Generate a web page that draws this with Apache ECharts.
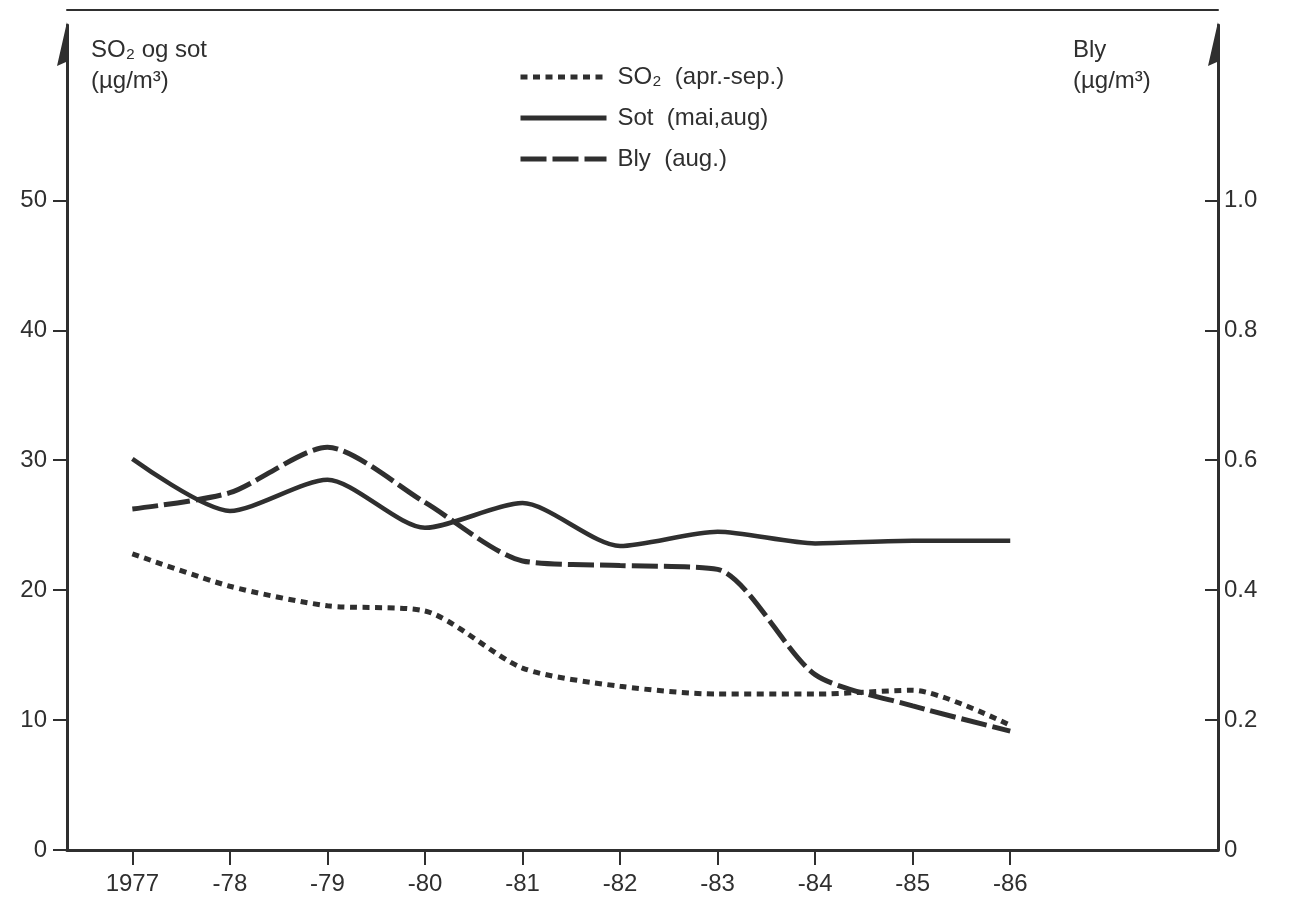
<!DOCTYPE html>
<html>
<head>
<meta charset="utf-8">
<script src="https://cdn.jsdelivr.net/npm/echarts@6/dist/echarts.min.js"></script>
<style>
  html, body { margin: 0; padding: 0; background: #fff; }
  #chart { width: 1289px; height: 903px; }
</style>
</head>
<body>
<div id="chart"></div>
<script>
// Years on the x axis and their printed labels
const years = [1977, 1978, 1979, 1980, 1981, 1982, 1983, 1984, 1985, 1986];
const yearLabels = ['1977', '-78', '-79', '-80', '-81', '-82', '-83', '-84', '-85', '-86'];

// SO2 (apr.-sep.), µg/m³, left axis
const so2 = [22.8, 20.3, 18.8, 18.4, 14.0, 12.6, 12.0, 12.0, 12.3, 9.6];
// Sot (mai, aug), µg/m³, left axis
const sot = [30.1, 26.1, 28.5, 24.8, 26.7, 23.4, 24.5, 23.6, 23.8, 23.8];
// Bly (aug.), µg/m³, right axis
const bly = [0.525, 0.55, 0.62, 0.535, 0.445, 0.438, 0.432, 0.27, 0.222, 0.183];

// Tick values shown on each axis
const leftTicks = [0, 10, 20, 30, 40, 50];
const rightTicks = [0, 0.2, 0.4, 0.6, 0.8, 1.0];

const seriesNames = ['SO₂  (apr.-sep.)', 'Sot  (mai,aug)', 'Bly  (aug.)'];

const ink = '#2f2f2f';
const font = 'Liberation Sans, Arial, Helvetica, sans-serif';

// One-sided arrow head for the vertical axes (barb on one side only);
// the zero-area spur keeps the shape centred on the axis line.
const halfArrow = 'path://M0,44 L10,0 L20,0 L10,0 L10,44 L9,40 Z';

const pairs = arr => years.map((y, i) => [y, arr[i]]);

const chart = echarts.init(document.getElementById('chart'), null, { renderer: 'canvas' });

chart.setOption({
  backgroundColor: '#ffffff',
  animation: false,
  textStyle: { fontFamily: font, color: ink },
  grid: { left: 67, right: 71, top: 25, bottom: 53, containLabel: false },
  title: [
    {
      text: 'SO₂ og sot\n(µg/m³)',
      left: 86, top: 30,
      textStyle: { fontFamily: font, fontSize: 24, fontWeight: 'normal', color: ink, lineHeight: 31 }
    },
    {
      text: 'Bly\n(µg/m³)',
      left: 1068, top: 30,
      textStyle: { fontFamily: font, fontSize: 24, fontWeight: 'normal', color: ink, lineHeight: 31 }
    }
  ],
  legend: {
    orient: 'vertical',
    left: 513, top: 60,
    itemWidth: 86, itemHeight: 14, itemGap: 17,
    itemStyle: { color: 'rgba(0,0,0,0)', borderWidth: 0, opacity: 0 },
    lineStyle: { width: 5 },
    textStyle: { fontFamily: font, fontSize: 24, color: ink, padding: [0, 0, 0, 6] },
    data: seriesNames
  },
  xAxis: [
    {
      type: 'value',
      min: 1976.33, max: 1988.13,
      splitLine: { show: false },
      axisLine: { show: true, onZero: false, lineStyle: { color: ink, width: 3 } },
      axisTick: {
        show: true, length: 15, inside: false,
        customValues: years,
        lineStyle: { color: ink, width: 2 }
      },
      axisLabel: {
        show: true, margin: 22, fontSize: 24, color: ink, fontFamily: font,
        customValues: years,
        formatter: v => yearLabels[years.indexOf(Math.round(v))] || ''
      }
    },
    {
      type: 'value',
      position: 'top',
      offset: 15,
      min: 1976.33, max: 1988.13,
      splitLine: { show: false },
      axisLine: { show: true, onZero: false, lineStyle: { color: ink, width: 2 } },
      axisTick: { show: false },
      axisLabel: { show: false }
    }
  ],
  yAxis: [
    {
      type: 'value',
      position: 'left',
      min: 0, max: 63.5,
      splitLine: { show: false },
      axisLine: {
        show: true, onZero: false, symbol: ['none', halfArrow], symbolSize: [20, 44], symbolOffset: [0, -19],
        lineStyle: { color: ink, width: 3 }
      },
      axisTick: {
        show: true, length: 14, inside: false,
        customValues: leftTicks,
        lineStyle: { color: ink, width: 2 }
      },
      axisLabel: {
        show: true, margin: 20, fontSize: 24, color: ink, fontFamily: font,
        customValues: leftTicks,
        formatter: v => String(Math.round(v))
      }
    },
    {
      type: 'value',
      position: 'right',
      min: 0, max: 1.27,
      splitLine: { show: false },
      axisLine: {
        show: true, onZero: false, symbol: ['none', halfArrow], symbolSize: [20, 44], symbolOffset: [0, -19],
        lineStyle: { color: ink, width: 3 }
      },
      axisTick: {
        show: true, length: 13, inside: true,
        customValues: rightTicks,
        lineStyle: { color: ink, width: 2 }
      },
      axisLabel: {
        show: true, margin: 6, fontSize: 24, color: ink, fontFamily: font,
        customValues: rightTicks,
        formatter: v => (v === 0 ? '0' : v.toFixed(1))
      }
    }
  ],
  series: [
    {
      name: seriesNames[0],
      type: 'line',
      xAxisIndex: 0, yAxisIndex: 0,
      data: pairs(so2),
      smooth: 0.25,
      symbol: 'none',
      color: ink,
      lineStyle: { color: ink, width: 5, type: [7, 5.5], cap: 'butt' }
    },
    {
      name: seriesNames[1],
      type: 'line',
      xAxisIndex: 0, yAxisIndex: 0,
      data: pairs(sot),
      smooth: 0.25,
      symbol: 'none',
      color: ink,
      lineStyle: { color: ink, width: 4.5, type: 'solid' }
    },
    {
      name: seriesNames[2],
      type: 'line',
      xAxisIndex: 0, yAxisIndex: 1,
      data: pairs(bly),
      smooth: 0.25,
      symbol: 'none',
      color: ink,
      lineStyle: { color: ink, width: 5, type: [26, 6] }
    }
  ]
});
</script>
</body>
</html>
